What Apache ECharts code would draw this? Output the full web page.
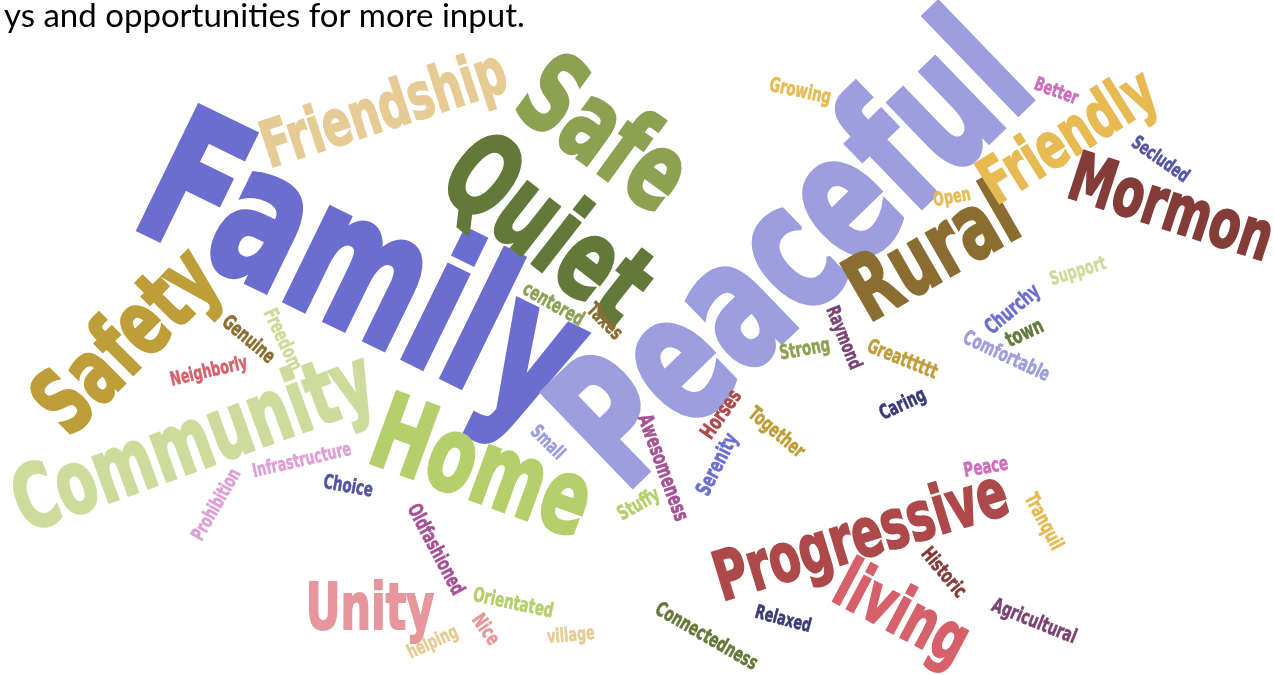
<!DOCTYPE html>
<html>
<head>
<meta charset="utf-8">
<script src="https://cdn.jsdelivr.net/npm/echarts@6/dist/echarts.min.js"></script>
<style>
  html, body { margin: 0; padding: 0; background: #fff; }
  #chart { width: 1274px; height: 675px; }
</style>
</head>
<body>
<div id="chart"></div>
<script>
// Nube de palabras: cada palabra se dibuja en su coordenada del grid (serie custom).
const palabras = ['Family', 'Peaceful', 'Quiet', 'Safe', 'Friendship', 'Home', 'Community', 'Safety',
  'Rural', 'Friendly', 'Mormon', 'Progressive', 'living', 'Unity',
  'Growing', 'Open', 'Better', 'Secluded', 'Support', 'Churchy', 'town', 'Comfortable',
  'Raymond', 'Strong', 'Greatttttt', 'Caring', 'centered', 'Taxes', 'Genuine', 'Freedom',
  'Neighborly', 'Infrastructure', 'Prohibition', 'Choice', 'Small', 'Awesomeness', 'Horses',
  'Together', 'Serenity', 'Stuffy', 'Oldfashioned', 'Orientated', 'Nice', 'helping', 'village',
  'Connectedness', 'Relaxed', 'Peace', 'Tranquil', 'Historic', 'Agricultural'];
const posX = [358, 800, 543, 600, 385, 480, 195, 130,
  935, 1070, 1170, 862, 900, 370,
  800, 952, 1056, 1160, 1078, 1013, 1025, 1006,
  843, 805, 902, 903, 553, 604, 248, 282,
  209, 302, 217, 348, 547, 662, 722,
  776, 718, 639, 435, 513, 485, 433, 571,
  706, 783, 986, 1043, 943, 1034];
const posY = [282, 260, 235, 140, 113, 474, 447, 345,
  258, 140, 212, 540, 617, 612,
  92, 198, 92, 160, 272, 310, 334, 357,
  338, 350, 360, 405, 305, 322, 340, 340,
  372, 461, 505, 487, 443, 468, 415,
  433, 465, 505, 550, 604, 630, 643, 636,
  637, 620, 468, 522, 573, 622];
const tamanos = [188, 178, 112, 108, 64, 104, 88, 90,
  90, 64, 68, 68, 68, 64,
  20, 19, 19, 19, 19, 21, 21, 20,
  19, 20, 20, 20, 20, 20, 20, 20,
  19, 19, 19, 20, 19, 21, 21,
  20, 21, 20, 20, 20, 20, 19, 19,
  20, 19, 20, 20, 20, 20];
const giros = [-26, 44, -38, -36, 18, -20, 20, 45,
  30, 32, -18, 17, -28, 0,
  -12, 10, -20, -35, 17, 40, 25, -25,
  -68, 10, -22, 25, -30, -45, -40, -65,
  13, 13, 60, -10, -45, -70, 55,
  -40, 63, 30, -62, -12, -55, 25, 5,
  -30, -15, 10, -62, -50, -22];
const colores = ['#6b6ecf', '#9c9ede', '#637939', '#8ca252', '#e7cb94', '#b5cf6b', '#cedb9c', '#bd9e39',
  '#8c6d31', '#e7ba52', '#843c39', '#ad494a', '#d6616b', '#e7969c',
  '#e7ba52', '#e7ba52', '#ce6dbd', '#5254a3', '#cedb9c', '#6b6ecf', '#637939', '#9c9ede',
  '#7b4173', '#8ca252', '#bd9e39', '#393b79', '#8ca252', '#8c6d31', '#8c6d31', '#cedb9c',
  '#d6616b', '#de9ed6', '#de9ed6', '#5254a3', '#9c9ede', '#a55194', '#ad494a',
  '#bd9e39', '#6b6ecf', '#b5cf6b', '#a55194', '#b5cf6b', '#e7969c', '#e7cb94', '#e7cb94',
  '#637939', '#393b79', '#ce6dbd', '#e7ba52', '#843c39', '#7b4173'];

// No hay Impact: DejaVu Sans Bold estrechada y engordada con un trazo.
const fuente = '"DejaVu Sans", sans-serif';
const estrechar = 0.67;

const chart = echarts.init(document.getElementById('chart'));
chart.setOption({
  animation: false,
  title: {
    text: 'ys and opportunities for more input.',
    left: -1,
    top: -5,
    textStyle: { fontFamily: 'Lato, "Open Sans", sans-serif', fontSize: 33, fontWeight: 'normal', color: '#000' }
  },
  grid: { left: 0, right: 0, top: 0, bottom: 0 },
  xAxis: { type: 'value', min: 0, max: 1274, show: false },
  yAxis: { type: 'value', min: 0, max: 675, inverse: true, show: false },
  series: [{
    type: 'custom',
    coordinateSystem: 'cartesian2d',
    data: palabras.map((p, i) => [posX[i], posY[i]]),
    renderItem: (params, api) => {
      const i = params.dataIndex;
      const pt = api.coord([api.value(0), api.value(1)]);
      return {
        type: 'text',
        x: pt[0],
        y: pt[1],
        rotation: giros[i] * Math.PI / 180,
        scaleX: estrechar,
        style: {
          text: palabras[i],
          fontSize: tamanos[i],
          fontFamily: fuente,
          fontWeight: 'bold',
          fill: colores[i],
          stroke: colores[i],
          lineWidth: tamanos[i] * 0.03,
          align: 'center',
          verticalAlign: 'middle'
        }
      };
    }
  }]
});
</script>
</body>
</html>
